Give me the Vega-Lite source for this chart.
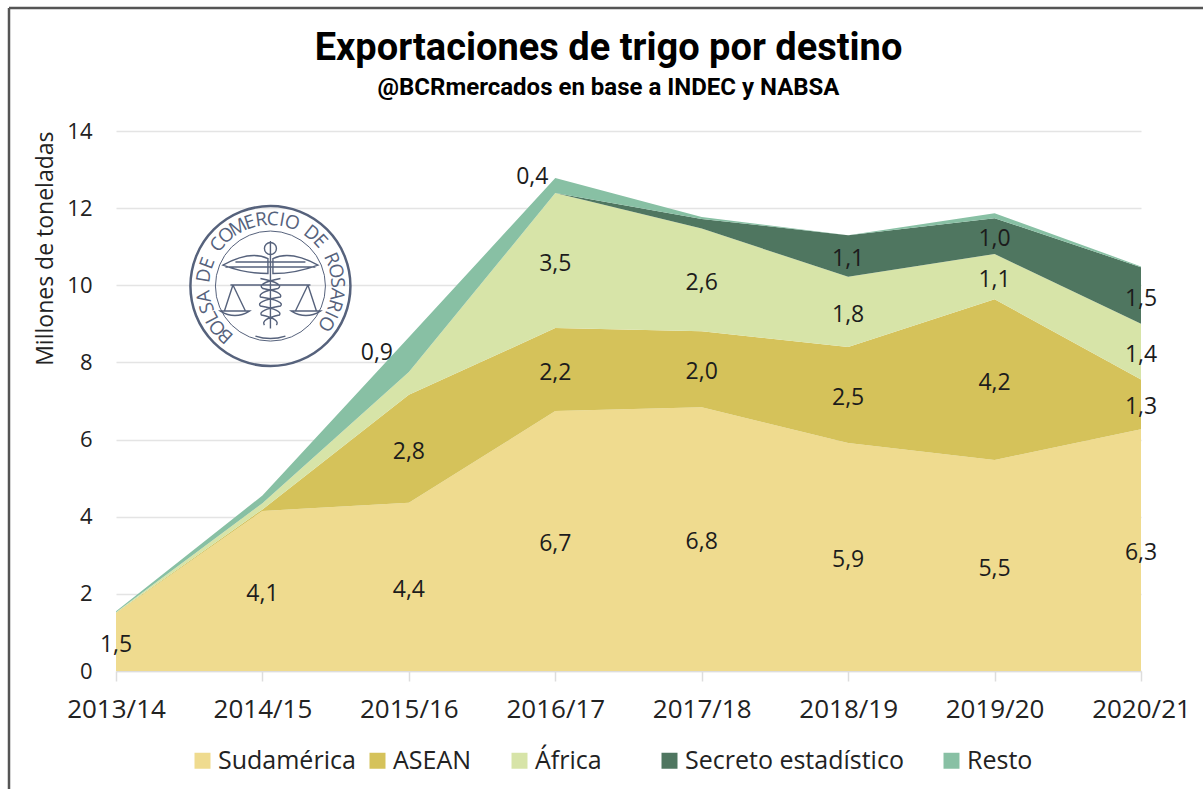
{"$schema":"https://vega.github.io/schema/vega-lite/v6.json","width":1025,"height":540,"autosize":{"type":"none"},"padding":{"left":116,"top":131,"right":62,"bottom":118},"background":"#ffffff",
"title":{"text":"Exportaciones de trigo por destino","subtitle":"@BCRmercados en base a INDEC y NABSA","anchor":"middle","frame":"group","dx":-20,"dy":93,"offset":0,"font":"Roboto","fontSize":38,"fontWeight":"bold","color":"#000000","subtitleFont":"Roboto","subtitleFontSize":24,"subtitleFontWeight":"bold","subtitleColor":"#000000","subtitlePadding":8},
"datasets":{"d":[
{"campana":"2013/14","destino":"Sudamérica","orden":1,"valor":1.5,"etiqueta":"1,5"},
{"campana":"2013/14","destino":"ASEAN","orden":2,"valor":0.01},
{"campana":"2013/14","destino":"África","orden":3,"valor":0.01},
{"campana":"2013/14","destino":"Secreto estadístico","orden":4,"valor":0},
{"campana":"2013/14","destino":"Resto","orden":5,"valor":0.03},
{"campana":"2014/15","destino":"Sudamérica","orden":1,"valor":4.15,"etiqueta":"4,1"},
{"campana":"2014/15","destino":"ASEAN","orden":2,"valor":0.04},
{"campana":"2014/15","destino":"África","orden":3,"valor":0.16},
{"campana":"2014/15","destino":"Secreto estadístico","orden":4,"valor":0},
{"campana":"2014/15","destino":"Resto","orden":5,"valor":0.2},
{"campana":"2015/16","destino":"Sudamérica","orden":1,"valor":4.36,"etiqueta":"4,4"},
{"campana":"2015/16","destino":"ASEAN","orden":2,"valor":2.8,"etiqueta":"2,8"},
{"campana":"2015/16","destino":"África","orden":3,"valor":0.59},
{"campana":"2015/16","destino":"Secreto estadístico","orden":4,"valor":0},
{"campana":"2015/16","destino":"Resto","orden":5,"valor":0.9,"etiqueta":"0,9"},
{"campana":"2016/17","destino":"Sudamérica","orden":1,"valor":6.74,"etiqueta":"6,7"},
{"campana":"2016/17","destino":"ASEAN","orden":2,"valor":2.15,"etiqueta":"2,2"},
{"campana":"2016/17","destino":"África","orden":3,"valor":3.5,"etiqueta":"3,5"},
{"campana":"2016/17","destino":"Secreto estadístico","orden":4,"valor":0},
{"campana":"2016/17","destino":"Resto","orden":5,"valor":0.39,"etiqueta":"0,4"},
{"campana":"2017/18","destino":"Sudamérica","orden":1,"valor":6.84,"etiqueta":"6,8"},
{"campana":"2017/18","destino":"ASEAN","orden":2,"valor":1.97,"etiqueta":"2,0"},
{"campana":"2017/18","destino":"África","orden":3,"valor":2.66,"etiqueta":"2,6"},
{"campana":"2017/18","destino":"Secreto estadístico","orden":4,"valor":0.25},
{"campana":"2017/18","destino":"Resto","orden":5,"valor":0.05},
{"campana":"2018/19","destino":"Sudamérica","orden":1,"valor":5.91,"etiqueta":"5,9"},
{"campana":"2018/19","destino":"ASEAN","orden":2,"valor":2.49,"etiqueta":"2,5"},
{"campana":"2018/19","destino":"África","orden":3,"valor":1.82,"etiqueta":"1,8"},
{"campana":"2018/19","destino":"Secreto estadístico","orden":4,"valor":1.08,"etiqueta":"1,1"},
{"campana":"2018/19","destino":"Resto","orden":5,"valor":0},
{"campana":"2019/20","destino":"Sudamérica","orden":1,"valor":5.47,"etiqueta":"5,5"},
{"campana":"2019/20","destino":"ASEAN","orden":2,"valor":4.17,"etiqueta":"4,2"},
{"campana":"2019/20","destino":"África","orden":3,"valor":1.17,"etiqueta":"1,1"},
{"campana":"2019/20","destino":"Secreto estadístico","orden":4,"valor":0.93,"etiqueta":"1,0"},
{"campana":"2019/20","destino":"Resto","orden":5,"valor":0.13},
{"campana":"2020/21","destino":"Sudamérica","orden":1,"valor":6.27,"etiqueta":"6,3"},
{"campana":"2020/21","destino":"ASEAN","orden":2,"valor":1.29,"etiqueta":"1,3"},
{"campana":"2020/21","destino":"África","orden":3,"valor":1.44,"etiqueta":"1,4"},
{"campana":"2020/21","destino":"Secreto estadístico","orden":4,"valor":1.47,"etiqueta":"1,5"},
{"campana":"2020/21","destino":"Resto","orden":5,"valor":0.02}
],
"sello":[{"campana":"2014/15","nivel":9.98}],
"marco":[{"ini":"2013/14","fin":"2020/21","alto":17.19,"bajo":-3.06}],
"letras":[
{"campana":"2014/15","nivel":9.98,"l":"B","g":222},{"campana":"2014/15","nivel":9.98,"l":"O","g":232},{"campana":"2014/15","nivel":9.98,"l":"L","g":242},{"campana":"2014/15","nivel":9.98,"l":"S","g":251},{"campana":"2014/15","nivel":9.98,"l":"A","g":261},{"campana":"2014/15","nivel":9.98,"l":"D","g":279},{"campana":"2014/15","nivel":9.98,"l":"E","g":290},{"campana":"2014/15","nivel":9.98,"l":"C","g":308},{"campana":"2014/15","nivel":9.98,"l":"O","g":319},{"campana":"2014/15","nivel":9.98,"l":"M","g":331},{"campana":"2014/15","nivel":9.98,"l":"E","g":342},{"campana":"2014/15","nivel":9.98,"l":"R","g":352},{"campana":"2014/15","nivel":9.98,"l":"C","g":362},{"campana":"2014/15","nivel":9.98,"l":"I","g":370},{"campana":"2014/15","nivel":9.98,"l":"O","g":379},{"campana":"2014/15","nivel":9.98,"l":"D","g":398},{"campana":"2014/15","nivel":9.98,"l":"E","g":408},{"campana":"2014/15","nivel":9.98,"l":"R","g":426},{"campana":"2014/15","nivel":9.98,"l":"O","g":437},{"campana":"2014/15","nivel":9.98,"l":"S","g":447},{"campana":"2014/15","nivel":9.98,"l":"A","g":457},{"campana":"2014/15","nivel":9.98,"l":"R","g":467},{"campana":"2014/15","nivel":9.98,"l":"I","g":475},{"campana":"2014/15","nivel":9.98,"l":"O","g":484}
]},
"data":{"name":"d"},
"layer":[
{"mark":{"type":"area","opacity":1,"line":false},
"encoding":{
"x":{"field":"campana","type":"ordinal","scale":{"type":"point","padding":0},"axis":{"title":null,"labelAngle":0,"domain":true,"domainColor":"#dddddd","domainWidth":1.5,"ticks":true,"tickColor":"#dddddd","tickWidth":1.5,"tickSize":10,"grid":false,"labelFont":"Open Sans","labelFontSize":26,"labelColor":"#222222","labelPadding":15}},
"y":{"field":"valor","type":"quantitative","stack":"zero","scale":{"domain":[0,14]},"axis":{"title":"Millones de toneladas","titleAnchor":"end","values":[0,2,4,6,8,10,12,14],"domain":false,"ticks":false,"gridColor":"#e4e4e4","gridWidth":1.5,"labelFont":"Open Sans","labelFontSize":22,"labelColor":"#222222","labelPadding":24,"titleFont":"Open Sans","titleFontSize":23,"titleFontWeight":"normal","titleColor":"#222222","titlePadding":9}},
"color":{"field":"destino","type":"nominal","scale":{"domain":["Sudamérica","ASEAN","África","Secreto estadístico","Resto"],"range":["#EFDB8F","#D5C25A","#D7E4A8","#4F7660","#88C0A4"]},"legend":{"title":null,"orient":"none","legendX":74,"legendY":617,"direction":"horizontal","columns":5,"symbolType":"square","symbolSize":256,"symbolOpacity":1,"symbolStrokeWidth":0,"labelFont":"Open Sans","labelFontSize":25,"labelColor":"#222222","labelLimit":400,"columnPadding":9,"labelOffset":3,"labelExpr":"datum.label=='ASEAN'?'ASEAN\u00a0\u00a0\u00a0\u00a0\u200b':datum.label=='África'?'África\u00a0\u00a0\u00a0\u00a0\u00a0\u00a0\u00a0\u200b':datum.label=='Secreto estadístico'?'Secreto estadístico\u00a0\u00a0\u00a0\u00a0\u200b':datum.label"}},
"order":{"field":"orden","type":"quantitative"}
}},
{"transform":[{"stack":"valor","groupby":["campana"],"sort":[{"field":"orden","order":"ascending"}],"as":["base","techo"]},{"calculate":"(datum.base+datum.techo)/2","as":"medio"},{"filter":"isValid(datum.etiqueta) && datum.orden<5"}],
"mark":{"type":"text","font":"Open Sans","fontSize":23,"color":"#1c1c1c","baseline":"middle","dy":3},
"encoding":{"x":{"field":"campana","type":"ordinal"},"y":{"field":"medio","type":"quantitative"},"text":{"field":"etiqueta","type":"nominal"}}},
{"transform":[{"stack":"valor","groupby":["campana"],"sort":[{"field":"orden","order":"ascending"}],"as":["base","techo"]},{"calculate":"(datum.base+datum.techo)/2","as":"medio"},{"filter":"datum.campana=='2015/16' && datum.orden==5"}],
"mark":{"type":"text","font":"Open Sans","fontSize":23,"color":"#1c1c1c","baseline":"middle","dx":-32,"dy":-2},
"encoding":{"x":{"field":"campana","type":"ordinal"},"y":{"field":"medio","type":"quantitative"},"text":{"field":"etiqueta","type":"nominal"}}},
{"transform":[{"stack":"valor","groupby":["campana"],"sort":[{"field":"orden","order":"ascending"}],"as":["base","techo"]},{"calculate":"(datum.base+datum.techo)/2","as":"medio"},{"filter":"datum.campana=='2016/17' && datum.orden==5"}],
"mark":{"type":"text","font":"Open Sans","fontSize":23,"color":"#1c1c1c","baseline":"middle","dx":-23,"dy":-9},
"encoding":{"x":{"field":"campana","type":"ordinal"},"y":{"field":"medio","type":"quantitative"},"text":{"field":"etiqueta","type":"nominal"}}},
{"data":{"name":"sello"},"mark":{"type":"point","filled":false,"size":25600,"stroke":"#56627c","strokeWidth":2.5,"opacity":1,"shape":"circle","xOffset":8},
"encoding":{"x":{"field":"campana","type":"ordinal"},"y":{"field":"nivel","type":"quantitative"}}},
{"data":{"name":"sello"},"mark":{"type":"point","filled":false,"size":12100,"stroke":"#56627c","strokeWidth":1,"opacity":1,"shape":"circle","xOffset":8},
"encoding":{"x":{"field":"campana","type":"ordinal"},"y":{"field":"nivel","type":"quantitative"}}},
{"data":{"name":"sello"},"mark":{"type":"point","filled":false,"size":10000,"stroke":"#56627c","strokeWidth":1.4,"opacity":1,"xOffset":8,"shape":"M-0.95,-0.42 Q-0.4,-0.72 -0.05,-0.55 L-0.05,-0.25 Q-0.5,-0.25 -0.95,-0.42 Z M0.95,-0.42 Q0.4,-0.72 0.05,-0.55 L0.05,-0.25 Q0.5,-0.25 0.95,-0.42 Z M-0.9,-0.38 L0.9,-0.38 M-0.7,-0.48 L0.7,-0.48 M0,-0.9 L0,0.85 M-0.12,-0.75 A0.12,0.12 0 1 1 0.12,-0.75 A0.12,0.12 0 1 1 -0.12,-0.75 M-0.8,-0.02 L0.8,-0.02 M-0.75,-0.02 L-0.92,0.5 M-0.75,-0.02 L-0.5,0.5 M-1,0.5 L-0.42,0.5 M-1,0.5 Q-0.71,0.68 -0.42,0.5 Z M0.75,-0.02 L0.92,0.5 M0.75,-0.02 L0.5,0.5 M1,0.5 L0.42,0.5 M1,0.5 Q0.71,0.68 0.42,0.5 Z M-0.2,-0.15 Q0.3,-0.05 0.15,0.05 Q-0.25,0.12 -0.2,0.22 Q0.3,0.3 0.2,0.4 Q-0.25,0.48 -0.18,0.58 Q0.2,0.66 0.12,0.78 M0.2,-0.15 Q-0.3,-0.05 -0.15,0.05 Q0.25,0.12 0.2,0.22 Q-0.3,0.3 -0.2,0.4 Q0.25,0.48 0.18,0.58 Q-0.2,0.66 -0.12,0.78 M-0.3,1.0 Q0,1.1 0.3,1.0"},
"encoding":{"x":{"field":"campana","type":"ordinal"},"y":{"field":"nivel","type":"quantitative"}}},
{"data":{"name":"letras"},"mark":{"type":"text","font":"Open Sans","fontSize":19,"color":"#56627c","baseline":"middle","align":"center","radius":67,"xOffset":8},
"encoding":{"x":{"field":"campana","type":"ordinal"},"y":{"field":"nivel","type":"quantitative"},"theta":{"field":"g","type":"quantitative","scale":{"domain":[0,360],"range":[0,6.28318]}},"angle":{"field":"g","type":"quantitative","scale":{"domain":[0,360],"range":[0,360]}},"text":{"field":"l","type":"nominal"}}},
{"data":{"name":"marco"},"mark":{"type":"rule","stroke":"#555555","strokeWidth":2.5,"xOffset":-107},
"encoding":{"x":{"field":"ini","type":"ordinal"},"y":{"field":"alto","type":"quantitative"},"y2":{"field":"bajo"}}},
{"data":{"name":"marco"},"mark":{"type":"rule","stroke":"#555555","strokeWidth":2.5,"xOffset":-107,"x2Offset":62},
"encoding":{"x":{"field":"ini","type":"ordinal"},"x2":{"field":"fin"},"y":{"field":"alto","type":"quantitative"}}}
],
"config":{"view":{"stroke":null}}}
